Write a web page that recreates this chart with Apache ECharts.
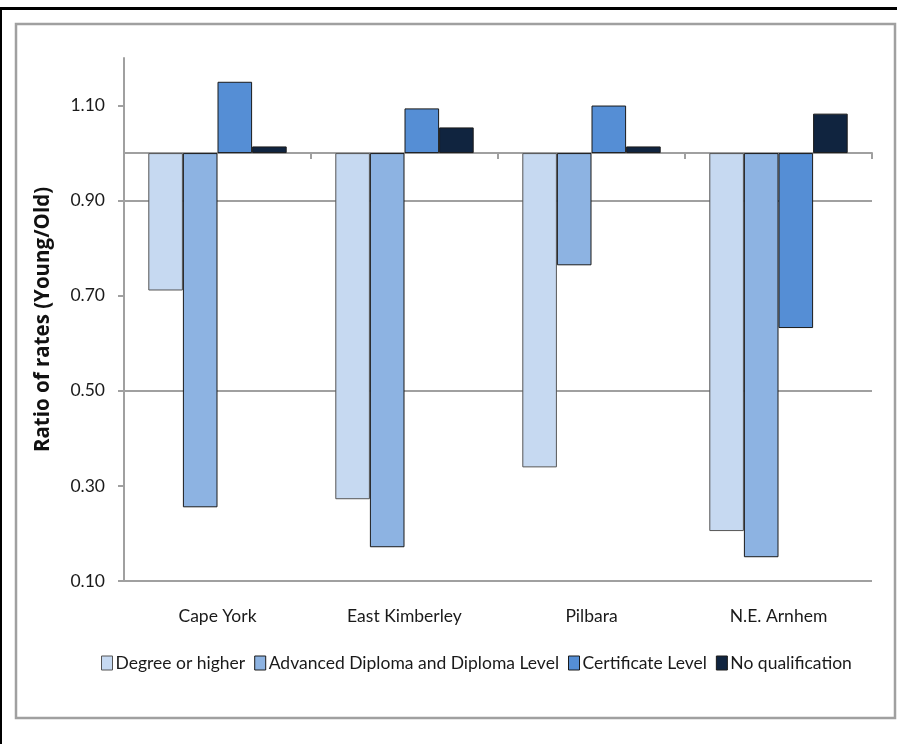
<!DOCTYPE html>
<html>
<head>
<meta charset="utf-8">
<style>
  html, body { margin: 0; padding: 0; background: #fff; }
  #chart { width: 897px; height: 744px; }
</style>
<script src="https://cdn.jsdelivr.net/npm/echarts@6/dist/echarts.min.js"></script>
</head>
<body>
<div id="chart"></div>
<script>
// Regions along the x axis
const regions = ['Cape York', 'East Kimberley', 'Pilbara', 'N.E. Arnhem'];

// Ratio of rates (young / old) by qualification level
const degreeOrHigher   = [0.711, 0.272, 0.339, 0.205];
const advancedDiploma  = [0.255, 0.171, 0.764, 0.150];
const certificateLevel = [1.150, 1.094, 1.100, 0.632];
const noQualification  = [1.014, 1.054, 1.014, 1.083];

const seriesNames = ['Degree or higher', 'Advanced Diploma and Diploma Level', 'Certificate Level', 'No qualification'];
const seriesColors = ['#c6d9f1', '#8db3e2', '#558ed5', '#10243f'];

// Y tick labels (ratio values)
const yTickLabels = [0.10, 0.30, 0.50, 0.70, 0.90, 1.10];

// Bars grow from a ratio of 1.0, so values are plotted as offsets from 1.
const BASE = 1.0;
const toOffset = v => +(v - BASE).toFixed(4);

const FONT = 'Lato';
const chart = echarts.init(document.getElementById('chart'), null, { renderer: 'canvas' });

const allSeries = [degreeOrHigher, advancedDiploma, certificateLevel, noQualification].map((vals, i) => ({
  name: seriesNames[i],
  type: 'bar',
  xAxisIndex: 0,
  data: vals.map(toOffset),
  barGap: '0%',
  barCategoryGap: '26%',
  itemStyle: {
    color: seriesColors[i],
    borderColor: i === 0 ? '#555' : '#1a1a1a',
    borderWidth: 1
  },
  emphasis: { disabled: true }
}));

chart.setOption({
  animation: false,
  backgroundColor: '#fff',
  textStyle: { fontFamily: FONT },
  graphic: [
    { type: 'rect', shape: { x: 16, y: 24, width: 879, height: 694 },
      style: { fill: 'none', stroke: '#a0a0a0', lineWidth: 2.5 }, z: -1 },
    { type: 'line', shape: { x1: 0, y1: 8.5, x2: 897, y2: 8.5 },
      style: { stroke: '#000', lineWidth: 3 } },
    { type: 'line', shape: { x1: 1, y1: 8, x2: 1, y2: 744 },
      style: { stroke: '#000', lineWidth: 2 } }
  ],
  grid: { left: 124, right: 25, top: 58, bottom: 163, containLabel: false },
  legend: {
    bottom: 67,
    left: 96,
    itemWidth: 11,
    itemHeight: 14,
    itemGap: 9,
    icon: 'rect',
    data: seriesNames.map((n, i) => ({
      name: n,
      itemStyle: { borderColor: i === 0 ? '#555' : '#1a1a1a', borderWidth: 1 }
    })),
    textStyle: { fontFamily: FONT, fontSize: 17.5, color: '#1a1a1a', padding: [0, 0, 0, -2] }
  },
  xAxis: [
    {
      type: 'category',
      data: regions,
      position: 'bottom',
      axisLine: { show: false, onZero: false },
      axisTick: { show: false },
      axisLabel: { fontFamily: FONT, fontSize: 17.5, color: '#1a1a1a', margin: 26 }
    },
    {
      // baseline at a ratio of 1.0 with ticks between regions
      type: 'category',
      data: regions,
      position: 'bottom',
      axisLine: { show: true, onZero: true, lineStyle: { color: '#a0a0a0', width: 2 } },
      axisTick: { show: true, length: 6, lineStyle: { color: '#a0a0a0', width: 2 } },
      axisLabel: { show: false },
      z: 1
    }
  ],
  yAxis: {
    type: 'value',
    min: toOffset(0.1),
    max: toOffset(1.2),
    interval: 0.1,
    name: 'Ratio of rates (Young/Old)',
    nameLocation: 'middle',
    nameGap: 70,
    nameTextStyle: { fontFamily: 'Open Sans', fontSize: 20.5, fontWeight: 'bold', color: '#111' },
    axisLine: { show: true, lineStyle: { color: '#a0a0a0', width: 2 } },
    axisTick: {
      show: true, length: 6,
      customValues: yTickLabels.map(toOffset),
      lineStyle: { color: '#a0a0a0', width: 2 }
    },
    axisLabel: {
      fontFamily: FONT, fontSize: 17.5, color: '#1a1a1a', margin: 19,
      customValues: yTickLabels.map(toOffset),
      formatter: v => (v + BASE).toFixed(2)
    },
    splitLine: {
      show: true,
      showMaxLine: false,
      lineStyle: { color: ['#a0a0a0', 'rgba(0,0,0,0)'], width: 2 }
    }
  },
  series: allSeries
});
</script>
</body>
</html>
